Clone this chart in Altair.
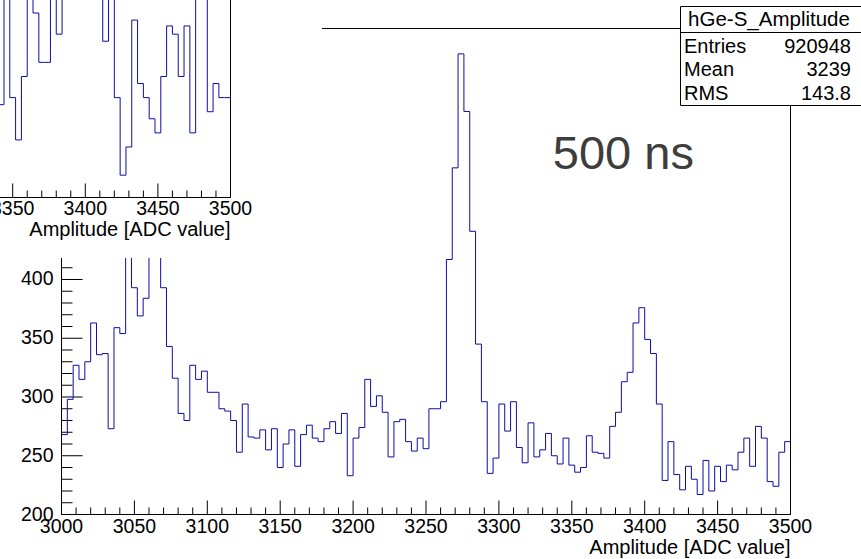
import altair as alt
import pandas as pd

# ---- histogram definition -------------------------------------------------
X_MIN, X_MAX = 3000, 3500
Y_MIN, Y_MAX = 200, 613.6
BIN_WIDTH = 4

# hGe-S_Amplitude, 125 bins of 4 ADC counts from 3000 to 3500
main_counts = [
    268, 298, 327, 315, 330, 363, 336, 337, 273, 359,
    354, 440, 393, 369, 384, 455, 425, 393, 343, 316,
    286, 280, 327, 315, 322, 304, 304, 290, 288, 280,
    253, 294, 266, 265, 272, 255, 273, 240, 260, 272,
    241, 268, 276, 265, 262, 273, 279, 269, 286, 233,
    265, 274, 315, 292, 301, 287, 249, 279, 281, 262,
    254, 265, 256, 290, 290, 296, 417, 495, 592, 543,
    441, 345, 296, 235, 248, 294, 271, 296, 257, 244,
    278, 249, 255, 269, 250, 243, 265, 242, 236, 240,
    267, 253, 252, 248, 275, 287, 313, 321, 363, 376,
    349, 337, 294, 229, 262, 234, 221, 241, 230, 217,
    246, 220, 241, 228, 242, 238, 253, 265, 241, 275,
    265, 228, 224, 253, 262,
]

# second canvas (window behind), bins from 3340 to 3500
inset_start = 3340
inset_counts = [
    279, 395, 285, 249, 303, 388, 357, 315, 315, 402,
    339, 410, 436, 452, 470, 455, 430, 398, 333, 392,
    285, 219, 243, 351, 297, 285, 267, 255, 303, 346,
    339, 303, 346, 255, 384, 392, 273, 297, 285, 285,
]

hist_name = "hGe-S_Amplitude"
stat_names = ["Entries", "Mean", "RMS"]
stat_values = ["920948", "3239", "143.8"]
x_title = "Amplitude [ADC value]"
annotation = "500 ns"

x_major = list(range(3000, 3501, 50))
x_minor = [v for v in range(3000, 3501, 10) if v % 50]
y_major = list(range(200, 601, 50))
y_minor = [v for v in range(200, 614, 10) if v % 50]

FONT = "Liberation Sans"
LABEL_SIZE = 19.5
BLUE = "#0c0ca8"


def step_frame(start, counts):
    edges = [start + i * BIN_WIDTH for i in range(len(counts))] + [start + len(counts) * BIN_WIDTH]
    return pd.DataFrame({"x": edges, "y": counts + [counts[-1]]})


def histogram_pad(counts, start, xs, ys, label_dy, title_dy, x_labels, y_labels, extra=()):
    """One ROOT-style pad: frame, inward ticks, axis labels, step histogram."""
    X = lambda f: alt.X(f, scale=xs, axis=None)
    Y = lambda f: alt.Y(f, scale=ys, axis=None)

    frame = alt.Chart(pd.DataFrame({"x": [X_MIN], "x2": [X_MAX], "y": [Y_MIN], "y2": [Y_MAX]})).mark_rect(
        filled=False, stroke="black", strokeWidth=1
    ).encode(x=X("x:Q"), x2="x2:Q", y=Y("y:Q"), y2="y2:Q")

    def xticks(vals, length):
        return alt.Chart(pd.DataFrame({"x": vals, "y": [Y_MIN] * len(vals)})).mark_rule(
            color="black", strokeWidth=1, y2Offset=-length
        ).encode(x=X("x:Q"), y=Y("y:Q"), y2="y:Q")

    def yticks(vals, length):
        return alt.Chart(pd.DataFrame({"y": vals, "x": [X_MIN] * len(vals)})).mark_rule(
            color="black", strokeWidth=1, x2Offset=length
        ).encode(x=X("x:Q"), x2="x:Q", y=Y("y:Q"))

    xlabels = alt.Chart(pd.DataFrame({"x": x_labels, "y": [Y_MIN] * len(x_labels)})).mark_text(
        align="center", baseline="middle", dy=label_dy, font=FONT, fontSize=LABEL_SIZE, color="black"
    ).encode(x=X("x:Q"), y=Y("y:Q"), text=alt.Text("x:Q", format="d"))

    xtitle = alt.Chart(pd.DataFrame({"x": [X_MAX], "y": [Y_MIN], "t": [x_title]})).mark_text(
        align="right", baseline="middle", dy=title_dy, font=FONT, fontSize=20, color="black"
    ).encode(x=X("x:Q"), y=Y("y:Q"), text="t:N")

    hist = alt.Chart(step_frame(start, counts)).mark_line(
        interpolate="step-after", color=BLUE, strokeWidth=1
    ).encode(x=X("x:Q"), y=Y("y:Q"))

    layers = [frame, xticks(x_major, 14), xticks(x_minor, 7),
              yticks(y_major, 21), yticks(y_minor, 11), xlabels, xtitle]
    if y_labels:
        ylabels = alt.Chart(pd.DataFrame({"y": y_labels, "x": [X_MIN] * len(y_labels)})).mark_text(
            align="right", baseline="middle", dx=-8, font=FONT, fontSize=LABEL_SIZE, color="black"
        ).encode(x=X("x:Q"), y=Y("y:Q"), text=alt.Text("y:Q", format="d"))
        layers.append(ylabels)
    layers.append(hist)
    layers.extend(extra)
    return alt.layer(*layers)


main_x = alt.Scale(domain=[X_MIN, X_MAX], range=[61.5, 790.5], nice=False, zero=False)
main_y = alt.Scale(domain=[Y_MIN, Y_MAX], range=[514.5, 28.5], nice=False, zero=False)
inset_x = alt.Scale(domain=[X_MIN, X_MAX], range=[-495.5, 230.5], nice=False, zero=False)
inset_y = alt.Scale(domain=[Y_MIN, Y_MAX], range=[197.5, -288.5], nice=False, zero=False)

note = alt.Chart(pd.DataFrame({"x": [3337], "y": [494], "t": [annotation]})).mark_text(
    align="left", baseline="alphabetic", font=FONT, fontSize=47, color="#3d3d3d"
).encode(
    x=alt.X("x:Q", scale=main_x, axis=None),
    y=alt.Y("y:Q", scale=main_y, axis=None),
    text="t:N",
)

# the upper part of the main y axis lies under the other window
main_y_labels = [v for v in y_major if v <= 400]
main = histogram_pad(main_counts, X_MIN, main_x, main_y, 12, 33, x_major, main_y_labels, [note])

# white canvas of the window lying on top, upper left
one = pd.DataFrame({"a": [0]})
cover = alt.Chart(one).mark_rect(color="white").encode(
    x=alt.value(0), x2=alt.value(322), y=alt.value(0), y2=alt.value(258)
)

# only the right end of that window's axis is on screen
inset_labels = [v for v in x_major if v >= 3350]
inset = histogram_pad(inset_counts, inset_start, inset_x, inset_y, 11.5, 32.5, inset_labels, [])

# statistics box
box = alt.Chart(one).mark_rect(fill="white", stroke="black", strokeWidth=1).encode(
    x=alt.value(680.5), x2=alt.value(880), y=alt.value(6.5), y2=alt.value(105.5)
)
sep = alt.Chart(one).mark_rule(color="black", strokeWidth=1).encode(
    x=alt.value(680.5), x2=alt.value(880), y=alt.value(32.5)
)
box_title = alt.Chart(pd.DataFrame({"t": [hist_name]})).mark_text(
    align="center", baseline="middle", font=FONT, fontSize=20.5, color="black"
).encode(x=alt.value(769), y=alt.value(19.5), text="t:N")

stats_df = pd.DataFrame({"name": stat_names, "value": stat_values, "row": list(range(len(stat_names)))})
row_scale = alt.Scale(domain=[0, 2], range=[46.5, 93.5])
stat_labels = alt.Chart(stats_df).mark_text(
    align="left", baseline="middle", font=FONT, fontSize=20, color="black"
).encode(x=alt.value(684), y=alt.Y("row:Q", scale=row_scale, axis=None), text="name:N")
stat_nums = alt.Chart(stats_df).mark_text(
    align="right", baseline="middle", font=FONT, fontSize=20, color="black"
).encode(x=alt.value(851), y=alt.Y("row:Q", scale=row_scale, axis=None), text="value:N")

stats = alt.layer(box, sep, box_title, stat_labels, stat_nums)

chart = alt.layer(main, cover, inset, stats).resolve_scale(
    x="independent", y="independent"
).properties(
    width=861, height=559, padding=0, autosize=alt.AutoSizeParams(type="none"),
    background="white",
).configure_view(strokeWidth=0)

chart.save("out.html", embed_options={"renderer": "svg", "actions": False})
